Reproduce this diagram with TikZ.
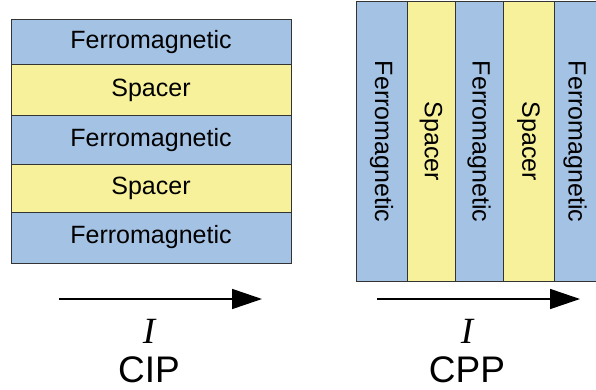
\documentclass[tikz,border=0pt]{standalone}
\usepackage{fontspec}
\setsansfont{Liberation Sans}
\newfontfamily\currentfont{Liberation Serif}
\usepackage{tikz}
\usepackage{xcolor}
\usetikzlibrary{arrows.meta}

\definecolor{ferroblue}{RGB}{164,194,228}
\definecolor{spaceryellow}{RGB}{246,241,154}

\tikzset{
  layer/.style={draw=black!80, line width=1pt, inner sep=0pt, font=\sffamily\fontsize{25}{30}\selectfont},
  ferro/.style={layer, fill=ferroblue},
  spacer/.style={layer, fill=spaceryellow},
  current/.style={line width=1.6pt, -{Triangle[length=30pt,width=20pt]}},
  symbol/.style={font=\currentfont\itshape\fontsize{37}{40}\selectfont},
  mode/.style={font=\sffamily\fontsize{37}{40}\selectfont},
}

\begin{document}
\begin{tikzpicture}[x=1pt,y=-1pt]
\useasboundingbox (0,0) rectangle (596,390);

% CIP stack
\node[ferro, minimum width=280pt, minimum height=45pt] (cipa) at (151,42.5) {Ferromagnetic};
\node[spacer, minimum width=280pt, minimum height=51pt] (cipb) at (151,90.5) {Spacer};
\node[ferro, minimum width=280pt, minimum height=48pt] (cipc) at (151,140) {Ferromagnetic};
\node[spacer, minimum width=280pt, minimum height=48pt] (cipd) at (151,188) {Spacer};
\node[ferro, minimum width=280pt, minimum height=51pt] (cipe) at (151,237.5) {Ferromagnetic};

% CPP stack
\node[ferro, rotate=-90, minimum width=279pt, minimum height=51pt] (cppa) at (381.5,141.5) {Ferromagnetic};
\node[spacer, rotate=-90, minimum width=279pt, minimum height=48pt] (cppb) at (431,141.5) {Spacer};
\node[ferro, rotate=-90, minimum width=279pt, minimum height=48pt] (cppc) at (479,141.5) {Ferromagnetic};
\node[spacer, rotate=-90, minimum width=279pt, minimum height=51pt] (cppd) at (528.5,141.5) {Spacer};
\node[ferro, rotate=-90, minimum width=279pt, minimum height=42pt] (cppe) at (575,141.5) {Ferromagnetic};

% currents
\coordinate (cipstart) at (59,299);
\coordinate (cipend) at (262,299);
\draw[current] (cipstart) -- (cipend);
\node[symbol] (cipi) at (149,331) {I};
\node[mode] (ciplabel) at (149,370) {CIP};

\coordinate (cppstart) at (377,299);
\coordinate (cppend) at (580,299);
\draw[current] (cppstart) -- (cppend);
\node[symbol] (cppi) at (467,331) {I};
\node[mode] (cpplabel) at (467,370) {CPP};

\end{tikzpicture}
\end{document}
